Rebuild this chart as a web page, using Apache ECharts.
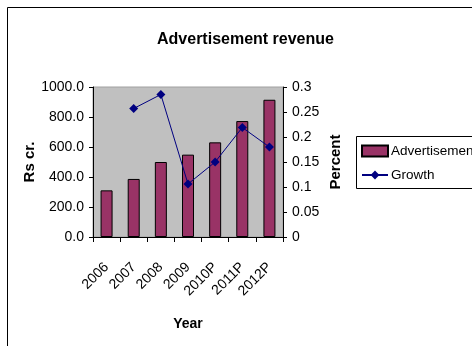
<!DOCTYPE html>
<html><head><meta charset="utf-8">
<script src="https://cdn.jsdelivr.net/npm/echarts@6/dist/echarts.min.js"></script>
<style>html,body{margin:0;padding:0;background:#fff}#c{width:472px;height:346px}</style>
</head><body><div id="c"></div>
<script>
const categories = ['2006','2007','2008','2009','2010P','2011P','2012P'];
const advertisement = [311, 387, 500, 549, 631, 773, 915];
const growth = [null, 0.257, 0.285, 0.106, 0.15, 0.219, 0.18];
const leftTicks = {min: 0, max: 1000, interval: 200};
const rightTicks = {min: 0, max: 0.3, interval: 0.05};

const FONT = '"Liberation Sans", Arial, sans-serif';
const chart = echarts.init(document.getElementById('c'), null, {renderer: 'canvas'});
chart.setOption({
  animation: false,
  backgroundColor: '#fff',
  title: {text: 'Advertisement revenue', left: 152, top: 27,
    textStyle: {fontFamily: FONT, fontSize: 16, fontWeight: 'bold', color: '#000'}},
  graphic: [
    {type: 'polyline', shape: {points: [[7.5, 400], [7.5, 7.5], [500, 7.5]]},
      style: {fill: null, stroke: '#000', lineWidth: 1}, silent: true, z: -1},
    {type: 'polyline', shape: {points: [[500, 136.5], [356.5, 136.5], [356.5, 188.5], [500, 188.5]]},
      style: {fill: null, stroke: '#000', lineWidth: 1}, silent: true, z: -1}
  ],
  legend: {orient: 'vertical', left: 356, top: 136, padding: [8, 5, 8, 5], itemGap: 10,
    itemWidth: 26, itemHeight: 11,
    textStyle: {fontFamily: FONT, fontSize: 13.5, color: '#000', padding: [0, 0, 0, -2]},
    data: [{name: 'Advertisement', icon: 'rect'}, {name: 'Growth'}]},
  grid: {left: 93, right: 189, top: 87, bottom: 109, show: true,
    backgroundColor: '#c0c0c0', borderColor: '#a0a0a0', borderWidth: 1},
  xAxis: {type: 'category', data: categories,
    name: 'Year', nameLocation: 'middle', nameGap: 80,
    nameTextStyle: {fontFamily: FONT, fontSize: 14, fontWeight: 'bold', color: '#000'},
    axisLine: {lineStyle: {color: '#000'}},
    axisTick: {show: true, length: 5, lineStyle: {color: '#000'}},
    axisLabel: {rotate: 45, margin: 28, interval: 0, fontFamily: FONT, fontSize: 14, color: '#000'}},
  yAxis: [{type: 'value', min: leftTicks.min, max: leftTicks.max, interval: leftTicks.interval,
    name: 'Rs cr.', nameLocation: 'middle', nameGap: 50, nameRotate: 90,
    nameTextStyle: {fontFamily: FONT, fontSize: 15, fontWeight: 'bold', color: '#000'},
    splitLine: {show: false},
    axisLine: {show: true, lineStyle: {color: '#000'}},
    axisTick: {show: true, length: 4, lineStyle: {color: '#000'}},
    axisLabel: {margin: 9, fontFamily: FONT, fontSize: 14, color: '#000',
      formatter: v => v.toFixed(1)}},
   {type: 'value', min: rightTicks.min, max: rightTicks.max, interval: rightTicks.interval, position: 'right',
    name: 'Percent', nameLocation: 'middle', nameGap: 45, nameRotate: 90,
    nameTextStyle: {fontFamily: FONT, fontSize: 15, fontWeight: 'bold', color: '#000'},
    splitLine: {show: false},
    axisLine: {show: true, lineStyle: {color: '#000'}},
    axisTick: {show: true, length: 4, lineStyle: {color: '#000'}},
    axisLabel: {margin: 9, fontFamily: FONT, fontSize: 14, color: '#000',
      formatter: v => String(Math.round(v * 100) / 100)}}],
  series: [
    {name: 'Advertisement', type: 'bar', data: advertisement, yAxisIndex: 0, barWidth: 12,
      itemStyle: {color: '#993366', borderColor: '#000', borderWidth: 1}},
    {name: 'Growth', type: 'line', data: growth, yAxisIndex: 1, connectNulls: false,
      symbol: 'diamond', symbolSize: 9, showSymbol: true,
      lineStyle: {color: '#000080', width: 1}, itemStyle: {color: '#000080'}}
  ]
});
</script></body></html>
